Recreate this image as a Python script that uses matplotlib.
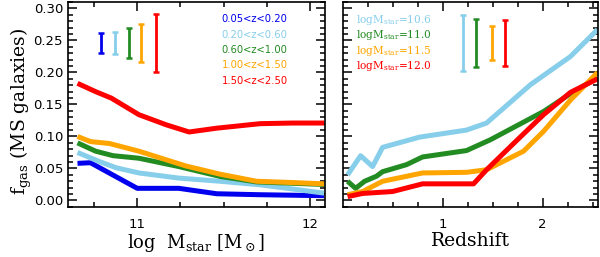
from matplotlib import pyplot as plt

plt.rcParams['mathtext.fontset'] = 'dejavuserif'

#%% Data
# Left panel: gas fraction vs stellar mass, one curve per redshift bin
z_labels = ['0.05<z<0.20', '0.20<z<0.60', '0.60<z<1.00', '1.00<z<1.50', '1.50<z<2.50']
z_colors = ['#0000ee', '#87ceeb', '#228b22', '#ffa500', '#ff0000']

mass_b1 = [10.655, 10.73, 11.0, 11.24, 11.46, 11.71, 12.08]
fgas_b1 = [0.058, 0.059, 0.019, 0.019, 0.0105, 0.009, 0.0075]
mass_b2 = [10.655, 10.78, 10.88, 11.01, 11.24, 11.48, 11.71, 12.08]
fgas_b2 = [0.075, 0.061, 0.051, 0.043, 0.035, 0.030, 0.0245, 0.0115]
mass_b3 = [10.655, 10.76, 10.86, 11.01, 11.24, 11.48, 11.69, 12.08]
fgas_b3 = [0.090, 0.077, 0.070, 0.066, 0.053, 0.0375, 0.029, 0.025]
mass_b4 = [10.655, 10.73, 10.84, 11.01, 11.28, 11.48, 11.69, 11.90, 12.08]
fgas_b4 = [0.100, 0.092, 0.089, 0.077, 0.054, 0.041, 0.030, 0.028, 0.026]
mass_b5 = [10.655, 10.76, 10.85, 11.01, 11.17, 11.30, 11.46, 11.71, 11.90, 12.08]
fgas_b5 = [0.183, 0.170, 0.160, 0.134, 0.118, 0.107, 0.113, 0.120, 0.121, 0.121]

# typical error bars (left panel)
err_mass = [10.79, 10.87, 10.95, 11.02, 11.11]
err_half_z = [0.015, 0.017, 0.024, 0.0295, 0.0455]

# Right panel: gas fraction vs redshift, one curve per stellar mass
m_labels = [r'logM$_{\rm star}$=10.6', r'logM$_{\rm star}$=11.0',
            r'logM$_{\rm star}$=11.5', r'logM$_{\rm star}$=12.0']
m_colors = ['#87ceeb', '#228b22', '#ffa500', '#ff0000']

z_m1 = [0.05, 0.18, 0.30, 0.40, 0.77, 1.24, 1.44, 1.88, 2.28, 2.55]
fgas_m1 = [0.040, 0.070, 0.053, 0.083, 0.099, 0.110, 0.121, 0.181, 0.225, 0.267]
z_m2 = [0.05, 0.13, 0.22, 0.34, 0.40, 0.64, 0.80, 1.24, 1.48, 2.01, 2.28, 2.55]
fgas_m2 = [0.030, 0.019, 0.030, 0.038, 0.045, 0.056, 0.068, 0.078, 0.095, 0.139, 0.167, 0.192]
z_m3 = [0.05, 0.20, 0.40, 0.80, 1.24, 1.44, 1.81, 2.01, 2.28, 2.55]
fgas_m3 = [0.009, 0.014, 0.030, 0.043, 0.044, 0.048, 0.077, 0.108, 0.157, 0.200]
z_m4 = [0.05, 0.20, 0.50, 0.80, 1.31, 1.44, 1.75, 2.01, 2.28, 2.55]
fgas_m4 = [0.006, 0.011, 0.014, 0.026, 0.026, 0.048, 0.095, 0.134, 0.169, 0.190]

# typical error bars (right panel)
err_z = [1.20, 1.33, 1.49, 1.62]
err_half_m = [0.044, 0.038, 0.026, 0.0355]
err_center = 0.246

#%% Figure
fig = plt.figure(figsize=(6, 2.57), dpi=100)
ax1 = fig.add_axes([0.1133, 0.195, 0.4284, 0.797])
ax2 = fig.add_axes([0.571, 0.195, 0.4257, 0.797])

for ax in (ax1, ax2):
    ax.set_ylim(-0.01, 0.31)
    ax.set_yticks([0.0, 0.05, 0.10, 0.15, 0.20, 0.25, 0.30])
    ax.set_yticks([i * 0.01 for i in range(-1, 32)], minor=True)
    ax.tick_params(which='both', direction='in', top=True, right=True, width=1.1)
    ax.tick_params(which='major', length=6.5)
    ax.tick_params(which='minor', length=3.5)
    ax.tick_params(axis='x', pad=8)
    for sp in ax.spines.values():
        sp.set_linewidth(1.2)

# left panel
left_series = [(mass_b1, fgas_b1), (mass_b2, fgas_b2), (mass_b3, fgas_b3),
               (mass_b4, fgas_b4), (mass_b5, fgas_b5)]
for (xs, ys), col in zip(left_series, z_colors):
    ax1.plot(xs, ys, color=col, lw=3.6, solid_capstyle='butt')
for xe, he, col in zip(err_mass, err_half_z, z_colors):
    ax1.errorbar([xe], [err_center], yerr=[he], color=col, lw=2, capsize=2.5, capthick=1.8)
for i, (lab, col) in enumerate(zip(z_labels, z_colors)):
    ax1.text(0.598, 0.917 - i * 0.0755, lab, color=col, fontsize=7.2,
             transform=ax1.transAxes, va='center', ha='left')

ax1.set_xlim(10.6, 12.085)
ax1.set_xticks([11, 12])
ax1.set_xticks([10.75, 11.25, 11.5, 11.75, 12.0], minor=True)
ax1.set_xticklabels(['11', '12'], fontsize=9.5)
ax1.set_yticklabels(['0.00', '0.05', '0.10', '0.15', '0.20', '0.25', '0.30'], fontsize=9.5)
ax1.set_xlabel(r'log  M$_{\rm star}$ [M$_\odot$]', family='DejaVu Serif', fontsize=13, labelpad=1)

# right panel
right_series = [(z_m1, fgas_m1), (z_m2, fgas_m2), (z_m3, fgas_m3), (z_m4, fgas_m4)]
for (xs, ys), col in zip(right_series, m_colors):
    ax2.plot(xs, ys, color=col, lw=3.6, solid_capstyle='butt')
for xe, he, col in zip(err_z, err_half_m, m_colors):
    ax2.errorbar([xe], [err_center], yerr=[he], color=col, lw=2, capsize=2.5, capthick=1.8)
for i, (lab, col) in enumerate(zip(m_labels, m_colors)):
    ax2.text(0.052, 0.912 - i * 0.0745, lab, color=col, fontsize=7.6,
             family='DejaVu Serif', transform=ax2.transAxes, va='center', ha='left')

ax2.set_xlim(0, 2.555)
ax2.set_xticks([1, 2])
ax2.set_xticks([0.25, 0.5, 0.75, 1.25, 1.5, 1.75, 2.25, 2.5], minor=True)
ax2.set_xticklabels(['1', '2'], fontsize=9.5)
ax2.set_yticklabels([])
ax2.set_xlabel('Redshift', family='DejaVu Serif', fontsize=13.5, labelpad=1)

fig.text(0.035, 0.568, r'f$_{\rm gas}$ (MS galaxies)', rotation=90, family='DejaVu Serif',
         fontsize=13.5, ha='center', va='center')

fig.savefig('out.png', dpi=100)
